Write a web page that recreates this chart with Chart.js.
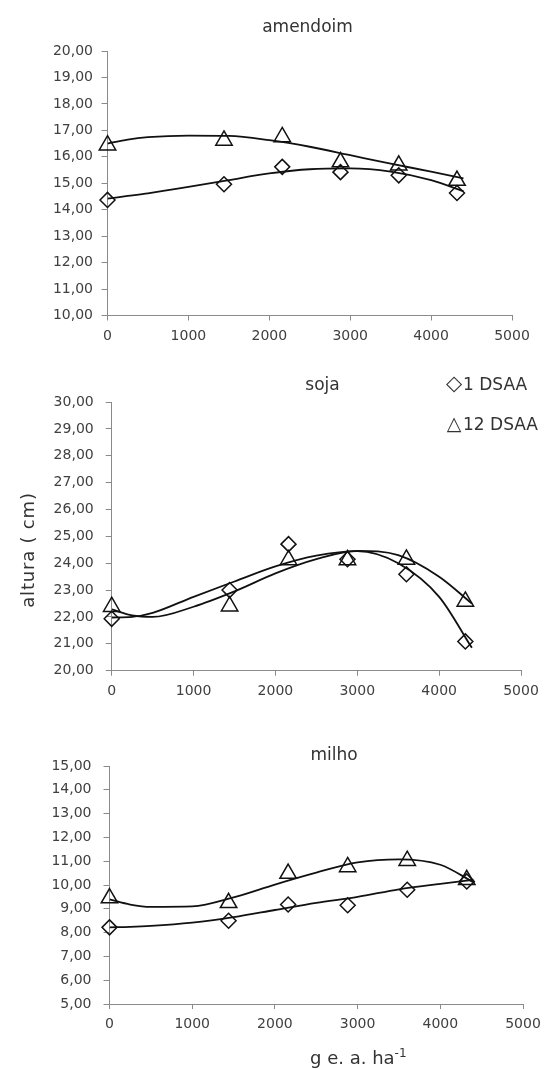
<!DOCTYPE html>
<html>
<head>
<meta charset="utf-8">
<script src="https://cdn.jsdelivr.net/npm/chart.js@4.4.0/dist/chart.umd.min.js"></script>
<style>
html,body{margin:0;padding:0;background:#fff;}
#wrap{position:relative;width:548px;height:1069px;overflow:hidden;font-family:"DejaVu Sans",sans-serif;color:#333;}
canvas{position:absolute;left:0;}
.t{position:absolute;white-space:nowrap;line-height:20px;}
.ttl{width:200px;text-align:center;font-size:17px;}
.leg{font-size:17px;}
.sym{display:inline-block;width:18px;text-align:center;line-height:20px;}
</style>
</head>
<body>
<div id="wrap">
<canvas id="c1" width="548" height="350" style="top:0px"></canvas>
<canvas id="c2" width="548" height="350" style="top:350px"></canvas>
<canvas id="c3" width="548" height="369" style="top:700px"></canvas>

<div class="t ttl" style="left:207.5px;top:15.9px;">amendoim</div>
<div class="t ttl" style="left:222.5px;top:374.2px;">soja</div>
<div class="t ttl" style="left:234px;top:744.2px;">milho</div>

<div class="t leg" style="left:445px;top:373.4px;"><span class="sym" style="font-size:21px;">◇</span>1 DSAA</div>
<div class="t leg" style="left:445px;top:413.4px;"><span class="sym" style="font-size:19px;">△</span>12 DSAA</div>

<div class="t" style="left:-32px;top:540px;width:120px;text-align:center;font-size:18px;letter-spacing:0.8px;transform:rotate(-90deg);transform-origin:60px 10px;">altura ( cm)</div>
<div class="t" style="left:310px;top:1047.8px;font-size:18px;">g e. a. ha<sup style="font-size:12px;line-height:0;">-1</sup></div>
</div>

<script>
// ---- data ----
const doses = [0, 1440, 2160, 2880, 3600, 4320];
const trendX = [0, 250, 500, 1000, 1500, 2000, 2500, 3000, 3500, 4000, 4400];

const xTicks = [0, 1000, 2000, 3000, 4000, 5000];
const xTickLabels = ['0', '1000', '2000', '3000', '4000', '5000'];

// amendoim
const amendoim1 = [14.37, 14.96, 15.62, 15.42, 15.30, 14.63];
const amendoim12 = [16.44, 16.62, 16.75, 15.80, 15.68, 15.10];
const amendoim1Trend = [14.42, 14.52, 14.62, 14.86, 15.12, 15.37, 15.53, 15.56, 15.44, 15.12, 14.70];
const amendoim12Trend = [16.50, 16.65, 16.74, 16.80, 16.79, 16.63, 16.38, 16.06, 15.74, 15.44, 15.18];
const amendoimYTicks = [10, 11, 12, 13, 14, 15, 16, 17, 18, 19, 20];
const amendoimYLabels = ['10,00', '11,00', '12,00', '13,00', '14,00', '15,00', '16,00', '17,00', '18,00', '19,00', '20,00'];

// soja
const soja1 = [21.93, 23.00, 24.71, 24.15, 23.59, 21.09];
const soja12 = [22.38, 22.40, 24.12, 24.12, 24.14, 22.58];
const soja1Trend = [21.98, 22.00, 22.15, 22.75, 23.32, 23.88, 24.28, 24.45, 24.00, 22.75, 20.85];
const soja12Trend = [22.28, 22.06, 22.00, 22.38, 22.95, 23.62, 24.15, 24.46, 24.30, 23.50, 22.50];
const sojaYTicks = [20, 21, 22, 23, 24, 25, 26, 27, 28, 29, 30];
const sojaYLabels = ['20,00', '21,00', '22,00', '23,00', '24,00', '25,00', '26,00', '27,00', '28,00', '29,00', '30,00'];

// milho
const milho1 = [8.22, 8.50, 9.18, 9.15, 9.80, 10.15];
const milho12 = [9.45, 9.25, 10.48, 10.76, 11.02, 10.22];
const milho1Trend = [8.22, 8.24, 8.28, 8.42, 8.65, 8.95, 9.25, 9.50, 9.82, 10.05, 10.22];
const milho12Trend = [9.40, 9.18, 9.08, 9.10, 9.48, 10.02, 10.52, 10.95, 11.08, 10.85, 10.12];
const milhoYTicks = [5, 6, 7, 8, 9, 10, 11, 12, 13, 14, 15];
const milhoYLabels = ['5,00', '6,00', '7,00', '8,00', '9,00', '10,00', '11,00', '12,00', '13,00', '14,00', '15,00'];

// ---- drawing ----
const AXIS = '#8a8a8a';
const TXT = '#404040';
const FONT = { family: 'DejaVu Sans', size: 14 };

function xy(xs, ys) { return xs.map((x, i) => ({ x: x, y: ys[i] })); }

function makeChart(id, c) {
  return new Chart(document.getElementById(id), {
    type: 'line',
    data: {
      datasets: [
        { label: '1 DSAA (tendência)', data: xy(trendX, c.t1), borderColor: '#111', borderWidth: 1.8,
          pointRadius: 0, cubicInterpolationMode: 'monotone', fill: false },
        { label: '12 DSAA (tendência)', data: xy(trendX, c.t12), borderColor: '#111', borderWidth: 1.8,
          pointRadius: 0, cubicInterpolationMode: 'monotone', fill: false },
        { label: '1 DSAA', data: xy(doses, c.o1), showLine: false, pointStyle: 'rectRot', pointRadius: 7.5,
          pointBorderColor: '#111', pointBackgroundColor: 'rgba(0,0,0,0)', pointBorderWidth: 1.5, clip: false },
        { label: '12 DSAA', data: xy(doses, c.o12), showLine: false, pointStyle: 'triangle', pointRadius: 9.5,
          pointBorderColor: '#111', pointBackgroundColor: 'rgba(0,0,0,0)', pointBorderWidth: 1.5, clip: false }
      ]
    },
    options: {
      responsive: false, animation: false, events: [],
      layout: { padding: { left: 0, top: c.top, right: c.right, bottom: 0 } },
      plugins: { legend: { display: false }, tooltip: { enabled: false }, title: { display: false } },
      scales: {
        x: {
          type: 'linear', min: 0, max: 5000,
          afterBuildTicks: s => { s.ticks = xTicks.map(v => ({ value: v })); },
          ticks: { callback: (v, i) => xTickLabels[i], font: FONT, color: TXT, padding: 7, maxRotation: 0, autoSkip: false },
          grid: { drawOnChartArea: false, drawTicks: true, tickLength: 5, color: AXIS, lineWidth: 1 },
          border: { display: true, color: AXIS, width: 1 },
          afterFit: s => { s.height = c.xh; }
        },
        y: {
          type: 'linear', min: c.yTicks[0], max: c.yTicks[c.yTicks.length - 1],
          afterBuildTicks: s => { s.ticks = c.yTicks.map(v => ({ value: v })); },
          ticks: { callback: (v, i) => c.yLabels[i], font: FONT, color: TXT, padding: c.ypad, autoSkip: false },
          grid: { drawOnChartArea: false, drawTicks: true, tickLength: 6, color: AXIS, lineWidth: 1 },
          border: { display: true, color: AXIS, width: 1 },
          afterFit: s => { s.width = c.yw; }
        }
      }
    }
  });
}

makeChart('c1', { t1: amendoim1Trend, t12: amendoim12Trend, o1: amendoim1, o12: amendoim12,
  yTicks: amendoimYTicks, yLabels: amendoimYLabels, top: 51, right: 36, xh: 34.5, yw: 107.5, ypad: 8.5 });
makeChart('c2', { t1: soja1Trend, t12: soja12Trend, o1: soja1, o12: soja12,
  yTicks: sojaYTicks, yLabels: sojaYLabels, top: 52, right: 27, xh: 29.3, yw: 111.7, ypad: 12 });
makeChart('c3', { t1: milho1Trend, t12: milho12Trend, o1: milho1, o12: milho12,
  yTicks: milhoYTicks, yLabels: milhoYLabels, top: 66, right: 25, xh: 65, yw: 109.5, ypad: 12 });
</script>
</body>
</html>
